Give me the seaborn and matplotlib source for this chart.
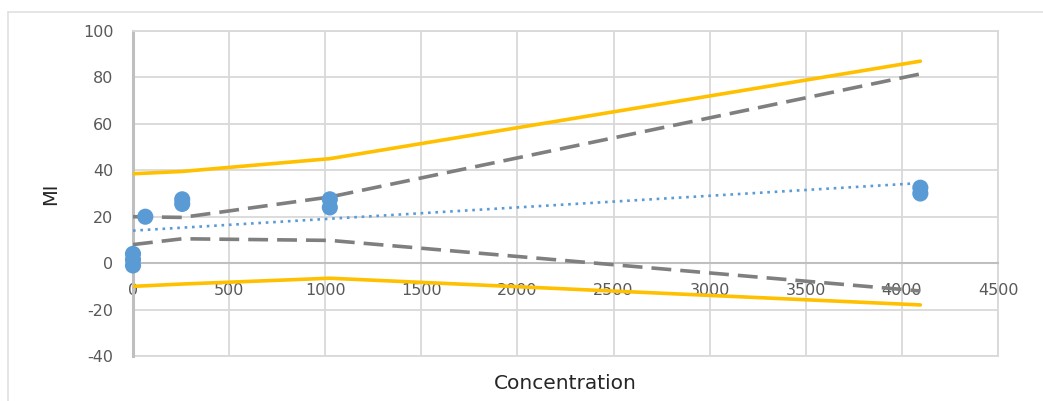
import matplotlib
matplotlib.use("Agg")
import matplotlib.pyplot as plt
import pandas as pd
import seaborn as sns
from matplotlib.lines import Line2D

# observed points
conc = [0, 0, 0, 64, 256, 256, 1024, 1024, 4096, 4096]
mi = [-1, 1.5, 4, 20, 25.5, 27.5, 24, 27.5, 30, 32.5]

# band values read at the dose levels
band_x = [0, 256, 1024, 4096]
pred_upper = [38.5, 39.5, 45, 87]
pred_lower = [-10, -9, -6.5, -18]
conf_upper = [20, 19.7, 28.5, 81.5]
conf_lower = [8, 10.5, 9.8, -12]

trend_x = [0, 4096]
trend_y = [14, 34.5]

xticks = [0, 500, 1000, 1500, 2000, 2500, 3000, 3500, 4000, 4500]
yticks = [-40, -20, 0, 20, 40, 60, 80, 100]

sns.set_style("white")
plt.rcParams['font.family'] = ['DejaVu Sans']
plt.rcParams['axes.unicode_minus'] = False

grid_c = '#d9d9d9'
axis_c = '#bfbfbf'
yellow = '#ffc000'
gray = '#7f7f7f'
blue = '#5b9bd5'

fig = plt.figure(figsize=(10.43, 4.01), dpi=100)
ax = fig.add_axes([133 / 1043, 1 - 356 / 401, 865 / 1043, 325 / 401])

bands = pd.DataFrame({'x': band_x, 'pu': pred_upper, 'pl': pred_lower,
                      'cu': conf_upper, 'cl': conf_lower})
for col in ['pu', 'pl']:
    sns.lineplot(data=bands, x='x', y=col, ax=ax, color=yellow, linewidth=2.6,
                 estimator=None, zorder=3)
for col in ['cu', 'cl']:
    sns.lineplot(data=bands, x='x', y=col, ax=ax, color=gray, linewidth=2.6,
                 estimator=None, dashes=False, zorder=3)
    ax.lines[-1].set_dashes([5.5, 2.5])

trend = pd.DataFrame({'x': trend_x, 'y': trend_y})
sns.lineplot(data=trend, x='x', y='y', ax=ax, color=blue, linewidth=1.9,
             estimator=None, zorder=3)
ax.lines[-1].set_linestyle((0, (1, 1.8)))

pts = pd.DataFrame({'c': conc, 'mi': mi})
sns.scatterplot(data=pts, x='c', y='mi', ax=ax, color=blue, s=135,
                edgecolor='none', zorder=4, clip_on=False)

ax.set_xlim(0, 4500)
ax.set_ylim(-40, 100)
ax.set_xticks(xticks)
ax.set_yticks(yticks)
ax.grid(True, color=grid_c, linewidth=1.3)
ax.set_axisbelow(True)

ax.spines['bottom'].set_position(('data', 0))
ax.spines['bottom'].set_color(axis_c)
ax.spines['bottom'].set_linewidth(1.5)
ax.spines['left'].set_color(axis_c)
ax.spines['left'].set_linewidth(2.2)
ax.spines['top'].set_color(grid_c)
ax.spines['right'].set_color(grid_c)
ax.spines['top'].set_linewidth(1.3)
ax.spines['right'].set_linewidth(1.3)
ax.add_line(Line2D([0, 1], [0, 0], transform=ax.transAxes, color=grid_c,
                   linewidth=1.3, clip_on=False))

ax.tick_params(axis='x', length=0, pad=14, labelsize=11.5, labelcolor='#595959')
ax.tick_params(axis='y', length=0, pad=14, labelsize=11.5, labelcolor='#595959')

ax.set_xlabel('Concentration', fontsize=14.5, color='#262626')
ax.set_ylabel('MI', fontsize=14, color='#262626')
ax.xaxis.set_label_coords(0.5, -0.055)
ax.yaxis.set_label_coords(-0.084, 0.5)

# outer chart frame
fig.add_artist(Line2D([8 / 1043, 1], [1 - 12 / 401, 1 - 12 / 401],
                      transform=fig.transFigure, color='#e0e0e0', linewidth=1.2))
fig.add_artist(Line2D([8 / 1043, 8 / 1043], [0, 1 - 12 / 401],
                      transform=fig.transFigure, color='#e0e0e0', linewidth=1.2))

fig.savefig('out.png', dpi=100)
